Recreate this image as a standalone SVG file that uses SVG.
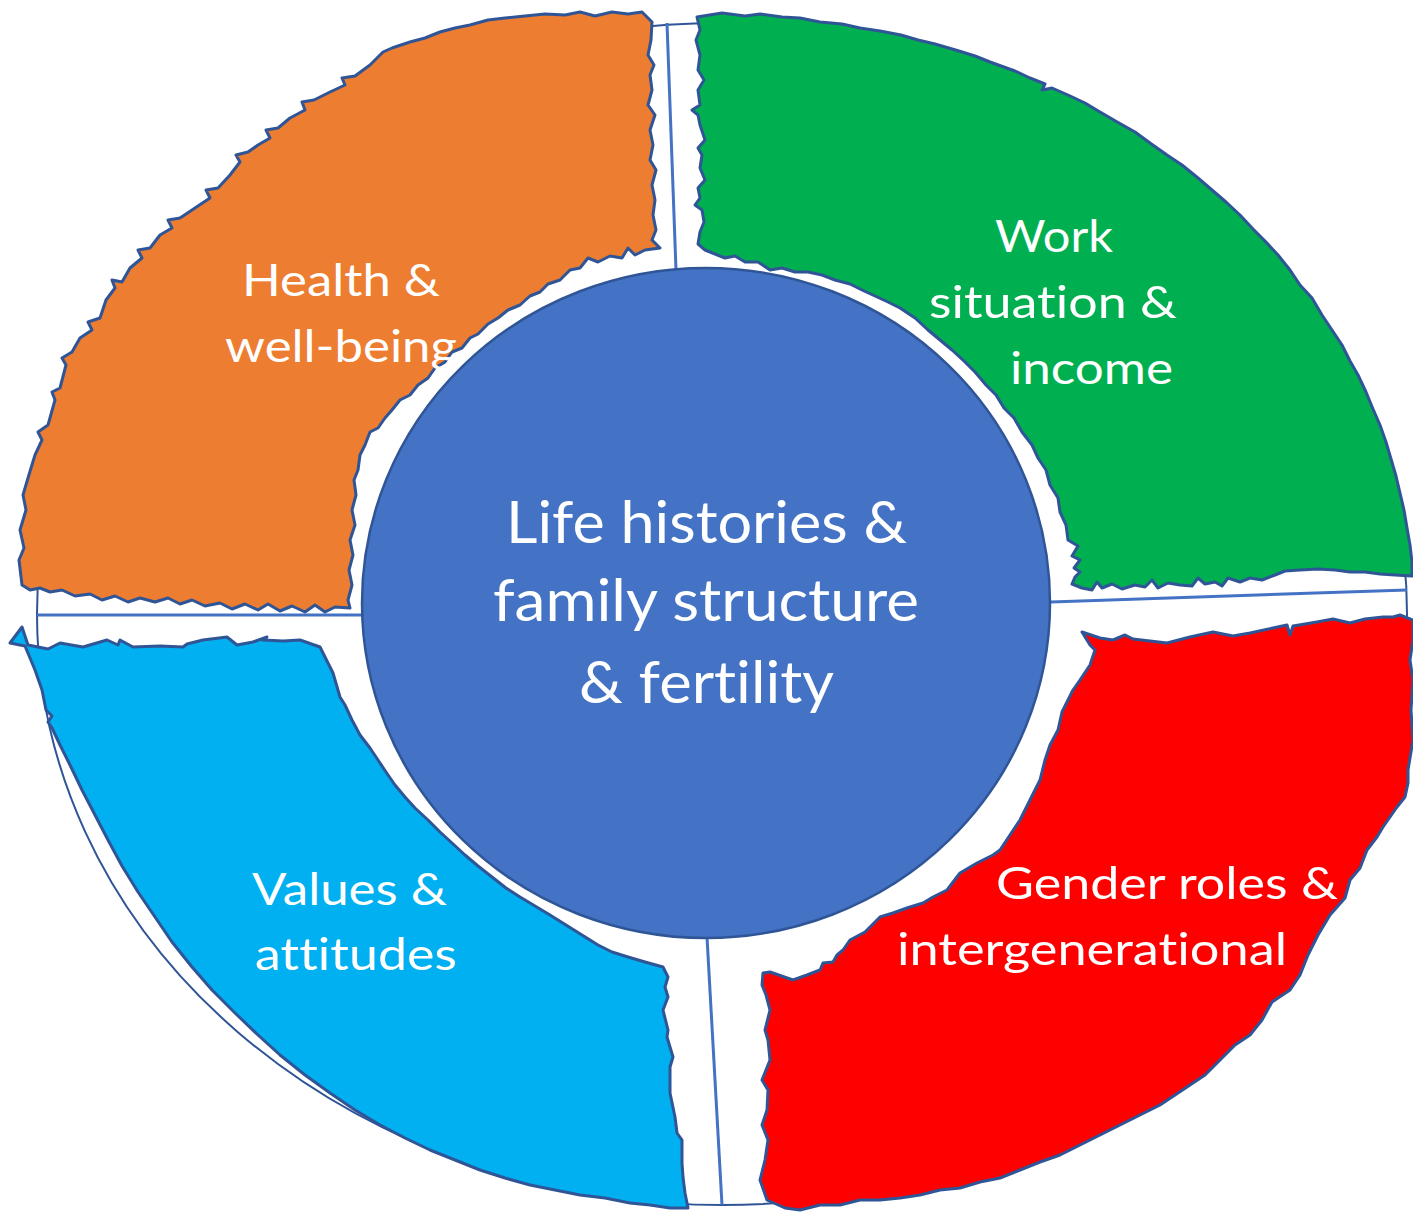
<svg xmlns="http://www.w3.org/2000/svg" width="1413" height="1213" viewBox="0 0 1413 1213">
<style>
.ring{fill:#ffffff;stroke:#2F5597;stroke-width:2}
.div{stroke:#4472C4;stroke-width:3;fill:none}
.q{stroke:#2F5597;stroke-width:3;stroke-linejoin:round}
.lbl{font-family:Lato,"Open Sans","Liberation Sans",sans-serif;fill:#ffffff;font-size:45px;font-variant-ligatures:none;font-feature-settings:"liga" 0,"clig" 0}
.ctr{font-family:Lato,"Open Sans","Liberation Sans",sans-serif;fill:#ffffff;font-size:58px;font-variant-ligatures:none;font-feature-settings:"liga" 0,"clig" 0}
</style>
<rect width="1413" height="1213" fill="#ffffff"/>
<g id="ring">
<ellipse class="ring" cx="722" cy="614" rx="685" ry="591"/>
</g>
<g id="connectors">
<line class="div" x1="667" y1="23" x2="676" y2="270"/>
<line class="div" x1="37" y1="615" x2="362" y2="615"/>
<line class="div" x1="1051" y1="602" x2="1407" y2="590"/>
<line class="div" x1="707" y1="937" x2="722" y2="1205"/>
</g>
<g id="health">
<path class="q" fill="#ED7D31" d="M22,585 L19,560 24,548 20,530 26,510 23,495 28,478 35,455 42,440 38,432 48,425 55,400 52,392 60,388 66,365 62,358 72,352 80,338 92,330 88,322 100,318 106,300 115,288 112,280 122,282 130,268 142,258 138,250 150,248 160,235 172,228 168,220 180,218 195,208 210,198 206,190 218,188 230,175 240,162 236,155 248,152 258,145 270,138 266,130 278,128 290,118 305,110 302,102 314,100 330,92 345,85 342,78 355,76 370,65 383,52 392,48 410,42 425,38 440,32 455,28 470,25 488,20 505,18 525,16 545,14 565,15 580,12 595,16 612,12 628,14 642,12 652,22 651,40 648,55 654,65 650,75 652,90 648,105 655,115 650,130 653,145 650,160 656,170 652,185 655,200 653,215 656,230 652,240 660,248 645,250 635,255 628,248 622,258 610,256 598,262 588,258 580,268 570,270 560,280 548,284 540,292 530,296 520,305 508,310 498,318 488,324 478,334 470,338 462,348 452,352 445,362 435,368 428,378 418,385 410,395 400,400 392,410 385,418 378,428 370,432 365,445 360,455 358,470 354,480 356,495 352,510 355,525 350,540 353,555 349,570 352,585 348,600 350,608 335,607 325,612 315,605 305,612 292,606 280,611 268,604 258,610 245,604 232,609 220,603 205,606 192,600 180,604 168,598 155,602 140,598 128,602 115,596 102,600 90,594 75,596 62,590 50,592 40,588 30,590 Z"/>
<text class="lbl" x="242" y="296" textLength="198" lengthAdjust="spacingAndGlyphs">Health &amp;</text>
<text class="lbl" x="225" y="362" textLength="232" lengthAdjust="spacingAndGlyphs">well-being</text>
</g>
<g id="work">
<path class="q" fill="#00B050" d="M697,17 L722,13 745,16 760,14 782,17 800,18 820,22 842,24 860,28 880,31 901,35 918,40 935,44 959,51 975,56 990,62 1015,71 1030,78 1045,84 1042,90 1052,88 1068,95 1085,103 1100,112 1119,123 1135,132 1150,143 1167,155 1182,165 1198,178 1212,190 1226,202 1240,215 1253,229 1265,241 1278,255 1290,270 1300,285 1312,298 1322,315 1332,330 1342,345 1350,361 1358,375 1366,392 1373,409 1380,425 1386,442 1391,459 1396,476 1400,493 1404,510 1407,528 1410,545 1412,562 1412,576 1395,575 1380,574 1365,572 1350,572 1335,570 1318,569 1300,570 1285,571 1275,575 1262,580 1250,578 1240,582 1228,578 1222,586 1215,582 1205,584 1198,578 1192,586 1180,585 1168,583 1158,588 1152,580 1145,587 1135,585 1122,589 1112,584 1102,588 1097,582 1092,590 1082,588 1072,584 1075,577 1080,572 1074,568 1080,560 1072,556 1078,546 1068,540 1066,525 1060,512 1058,498 1050,485 1046,470 1038,458 1032,445 1022,432 1014,418 1004,408 996,395 986,385 975,372 965,362 952,350 940,340 928,330 915,318 900,308 888,302 875,296 862,290 850,284 835,280 822,275 808,272 795,272 782,268 770,270 758,262 745,262 735,256 725,258 715,254 705,250 698,244 700,232 704,222 702,210 695,205 700,198 698,188 705,180 700,168 702,155 698,148 705,140 700,125 698,115 692,110 700,105 698,90 704,80 698,70 700,55 696,40 700,30 Z"/>
<text class="lbl" x="995" y="252" textLength="118" lengthAdjust="spacingAndGlyphs">Work</text>
<text class="lbl" x="929" y="318" textLength="248" lengthAdjust="spacingAndGlyphs">situation &amp;</text>
<text class="lbl" x="1010" y="384" textLength="163" lengthAdjust="spacingAndGlyphs">income</text>
</g>
<g id="gender">
<path class="q" fill="#FF0000" d="M1082,632 L1100,638 1113,640 1125,635 1133,639 1150,641 1167,643 1190,637 1213,632 1233,636 1250,633 1273,628 1287,625 1290,635 1293,626 1317,622 1333,619 1350,623 1365,619 1383,617 1393,617 1400,615 1413,620 1413,640 1410,660 1413,680 1411,710 1413,740 1408,770 1408,783 1405,797 1397,807 1390,817 1383,827 1377,837 1367,850 1360,868 1350,880 1345,898 1330,915 1318,935 1308,955 1300,975 1290,990 1272,1002 1262,1020 1250,1035 1235,1045 1220,1060 1205,1075 1190,1085 1175,1095 1160,1105 1140,1115 1120,1125 1100,1135 1080,1145 1060,1155 1040,1162 1020,1170 1000,1178 980,1182 960,1188 940,1190 920,1195 900,1198 880,1200 860,1200 840,1205 820,1205 800,1210 785,1208 767,1200 760,1180 765,1160 768,1140 762,1125 767,1110 768,1090 762,1080 770,1060 768,1040 765,1030 770,1010 766,995 762,985 763,973 770,972 793,980 807,975 820,970 823,963 833,962 837,955 843,950 850,940 865,932 880,917 893,913 907,908 923,903 933,897 947,890 960,873 977,863 993,855 1000,850 1010,835 1020,820 1030,800 1040,780 1045,760 1050,745 1058,730 1062,712 1068,700 1073,690 1080,680 1090,665 1095,650 1090,645 Z"/>
<text class="lbl" x="996" y="899" textLength="342" lengthAdjust="spacingAndGlyphs">Gender roles &amp;</text>
<text class="lbl" x="897" y="965" textLength="390" lengthAdjust="spacingAndGlyphs">intergenerational</text>
</g>
<g id="values">
<path class="q" fill="#00B0F0" d="M25,646 L10,643 22,627 28,645 48,649 60,643 83,647 107,640 118,645 120,640 133,647 160,646 183,647 187,644 203,640 227,637 237,645 253,642 267,637 263,640 283,641 300,640 320,647 325,657 333,673 340,697 345,705 352,720 360,735 370,748 378,760 386,772 395,785 405,797 415,808 428,820 440,832 452,843 465,855 478,866 492,877 506,888 520,897 535,906 550,915 566,925 582,935 598,945 612,952 628,957 645,962 663,967 668,977 665,987 668,997 663,1010 668,1030 667,1037 673,1057 670,1067 670,1093 675,1117 677,1133 682,1140 682,1163 683,1177 685,1193 688,1208 670,1208 650,1205 630,1203 605,1198 580,1195 555,1190 530,1185 505,1178 480,1170 455,1160 430,1150 405,1138 380,1125 355,1110 330,1093 305,1075 280,1055 258,1035 235,1013 212,990 192,967 172,942 155,917 138,892 122,866 108,840 95,815 82,790 70,765 60,745 52,728 48,722 52,716 46,710 42,690 35,670 Z"/>
<text class="lbl" x="252" y="905" textLength="195" lengthAdjust="spacingAndGlyphs">Values &amp;</text>
<text class="lbl" x="255" y="970" textLength="202" lengthAdjust="spacingAndGlyphs">attitudes</text>
</g>
<g id="center">
<ellipse cx="706" cy="603" rx="344" ry="335" fill="#4472C4" stroke="#2F5597" stroke-width="2.5"/>
<text class="ctr" x="506" y="543" textLength="401" lengthAdjust="spacingAndGlyphs">Life histories &amp;</text>
<text class="ctr" x="493" y="621" textLength="426" lengthAdjust="spacingAndGlyphs">family structure</text>
<text class="ctr" x="579" y="703" textLength="255" lengthAdjust="spacingAndGlyphs">&amp; fertility</text>
</g>
</svg>
